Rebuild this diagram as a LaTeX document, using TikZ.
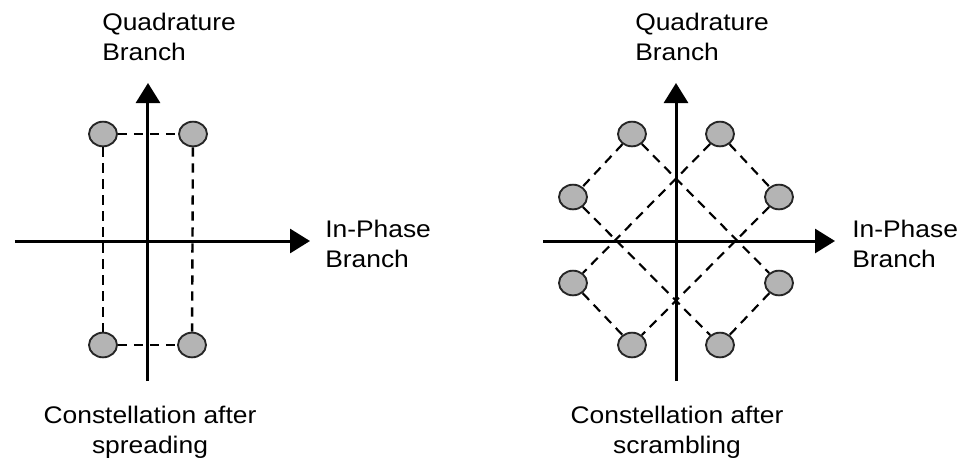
\documentclass[tikz,border=0pt]{standalone}
\usepackage{fontspec}
\setmainfont{Liberation Sans}[FakeStretch=1.1]
\usepackage{tikz}
\usetikzlibrary{arrows.meta, shapes.geometric, positioning}
\definecolor{dotgray}{RGB}{180,180,180}
\tikzset{>={Triangle[length=15pt,width=18pt]}}

\begin{document}
\begin{tikzpicture}[x=0.75pt, y=0.75pt,
    axis/.style={line width=2.25pt, ->},
    sym/.style={ellipse, draw=black!85, line width=1.4pt, fill=dotgray, minimum width=21pt, minimum height=18.5pt, inner sep=0pt},
    link/.style={line width=1.6pt, dash pattern=on 7pt off 5pt},
    lbl/.style={font=\fontsize{18}{22.5}\selectfont, inner sep=0pt, align=left}]

            \useasboundingbox (-148,-221) rectangle (815,241);

            % spreading
            \coordinate (W1) at (-133,0);
            \coordinate (E1) at (162,0);
            \coordinate (S1) at (0,-140);
            \coordinate (N1) at (0,158);
            \draw [axis] (W1)--(E1);
            \draw [axis] (S1)--(N1);

            \node[sym] (A1) at (-45,107) {};
            \node[sym] (A2) at (45,107) {};
            \node[sym] (A3) at (-45,-104) {};
            \node[sym] (A4) at (44,-104) {};
            \draw [link, line width=1.8pt] (A1)--(A2);
            \draw [link, line width=1.8pt] (A3)--(A4);
            \draw [link, line width=1.8pt] (A1)--(A3);
            \draw [link, line width=1.8pt] (A2)--(A4);

            \node[lbl, anchor=north west] (Q1) at (-46,228) {Quadrature\\Branch};
            \node[lbl, anchor=north west] (I1) at (177,21) {In-Phase\\Branch};
            \node[lbl, anchor=north, align=center] (C1) at (2,-165) {Constellation after\\spreading};

            % scrambling
            \coordinate (W2) at (395,0);
            \coordinate (E2) at (687,0);
            \coordinate (S2) at (528,-140);
            \coordinate (N2) at (528,158);
            \draw [axis] (W2)--(E2);
            \draw [axis] (S2)--(N2);

            \node[sym] (B1) at (484,107) {};
            \node[sym] (B2) at (572,107) {};
            \node[sym] (B3) at (425,44) {};
            \node[sym] (B4) at (631,44) {};
            \node[sym] (B5) at (425,-42) {};
            \node[sym] (B6) at (631,-42) {};
            \node[sym] (B7) at (484,-104) {};
            \node[sym] (B8) at (572,-104) {};
            \draw [link] (B1)--(B3);
            \draw [link] (B1)--(B6);
            \draw [link] (B3)--(B8);
            \draw [link] (B6)--(B8);
            \draw [link] (B2)--(B4);
            \draw [link] (B2)--(B5);
            \draw [link] (B4)--(B7);
            \draw [link] (B5)--(B7);

            \node[lbl, anchor=north west] (Q2) at (487,228) {Quadrature\\Branch};
            \node[lbl, anchor=north west] (I2) at (704,21) {In-Phase\\Branch};
            \node[lbl, anchor=north, align=center] (C2) at (529,-165) {Constellation after\\scrambling};
\end{tikzpicture}
\end{document}
